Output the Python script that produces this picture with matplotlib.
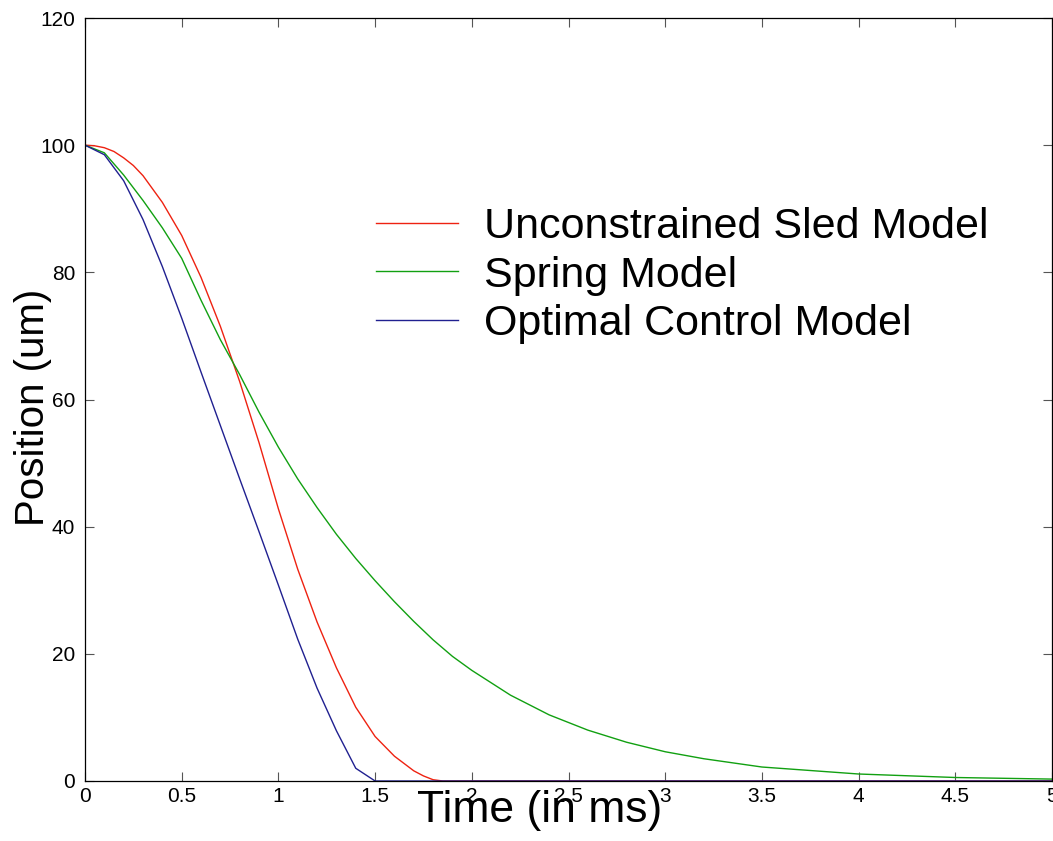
import matplotlib
matplotlib.use("Agg")
import matplotlib.pyplot as plt
import numpy as np

plt.rcParams["font.family"] = ["Liberation Sans", "DejaVu Sans"]

## Dados
tempo_sled = [0.0, 0.05, 0.1, 0.15, 0.2, 0.25, 0.3, 0.4, 0.5, 0.6, 0.7, 0.8, 0.9, 1.0,
              1.1, 1.2, 1.3, 1.4, 1.5, 1.6, 1.7, 1.75, 1.8, 1.85, 2.0, 3.0, 4.0, 5.0]
pos_sled = [100.0, 99.9, 99.6, 99.0, 98.0, 96.8, 95.2, 91.0, 85.8, 79.2, 71.5, 62.8,
            53.2, 42.8, 33.3, 25.0, 17.8, 11.6, 7.0, 3.9, 1.6, 0.8, 0.2, 0.0,
            0.0, 0.0, 0.0, 0.0]

tempo_spring = [0.0, 0.1, 0.2, 0.3, 0.4, 0.5, 0.6, 0.7, 0.8, 0.9, 1.0, 1.1, 1.2, 1.3,
                1.4, 1.5, 1.6, 1.7, 1.8, 1.9, 2.0, 2.2, 2.4, 2.6, 2.8, 3.0, 3.2,
                3.5, 4.0, 4.5, 5.0]
pos_spring = [100.0, 98.8, 95.3, 91.3, 87.0, 82.2, 75.6, 69.4, 63.9, 58.0, 52.5, 47.5,
              43.0, 38.8, 35.0, 31.5, 28.2, 25.1, 22.2, 19.6, 17.4, 13.5, 10.4, 8.0,
              6.1, 4.6, 3.5, 2.2, 1.1, 0.55, 0.3]

tempo_otimo = [0.0, 0.1, 0.2, 0.3, 0.4, 0.5, 0.6, 0.7, 0.8, 0.9, 1.0, 1.1, 1.2, 1.3,
               1.4, 1.5, 2.0, 3.0, 4.0, 5.0]
pos_otimo = [100.0, 98.5, 94.4, 88.3, 80.9, 72.8, 64.3, 55.9, 47.5, 39.2, 30.8, 22.3,
             14.6, 7.9, 2.0, 0.0, 0.0, 0.0, 0.0, 0.0]

nomes = ["Unconstrained Sled Model", "Spring Model", "Optimal Control Model"]
cores = ["#ee2211", "#11a011", "#202090"]

xticks = np.arange(0, 5.01, 0.5)
xtick_labels = ["0", "0.5", "1", "1.5", "2", "2.5", "3", "3.5", "4", "4.5", "5"]
yticks = [0, 20, 40, 60, 80, 100, 120]

## Formatação do plot
fig = plt.figure(figsize=(10.53, 8.41), dpi=100)
ax = fig.add_axes([85 / 1053, 60 / 841, 967 / 1053, 763 / 841])

ax.plot(tempo_sled, pos_sled, color=cores[0], lw=1.0, label=nomes[0])
ax.plot(tempo_spring, pos_spring, color=cores[1], lw=1.0, label=nomes[1])
ax.plot(tempo_otimo, pos_otimo, color=cores[2], lw=1.0, label=nomes[2])

ax.set_xlim(0, 5)
ax.set_ylim(0, 120)
ax.set_xticks(xticks)
ax.set_xticklabels(xtick_labels)
ax.set_yticks(yticks)
ax.tick_params(direction="in", length=6.5, width=0.8, color="#555555",
               labelsize=15, top=True, right=True)
ax.tick_params(axis="x", pad=4)
ax.tick_params(axis="y", pad=7)
for sp in ax.spines.values():
    sp.set_linewidth(0.9)

ax.set_xlabel("Time (in ms)", fontsize=32)
ax.xaxis.set_label_coords(0.47, -0.012)
ax.set_ylabel("Position (um)", fontsize=29)
ax.yaxis.set_label_coords(-0.034, 0.49)

ax.legend(loc="upper left", bbox_to_anchor=(0.283, 0.775), frameon=False,
          fontsize=31, handlelength=1.9, handletextpad=0.6, labelspacing=0.2,
          borderaxespad=0)

fig.savefig("out.png", dpi=100)
